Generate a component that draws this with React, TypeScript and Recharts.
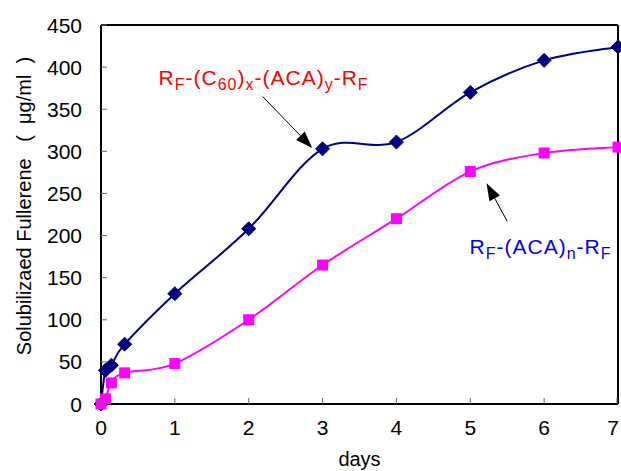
import React from 'react';
import { LineChart, Line, XAxis, YAxis, ReferenceLine, ReferenceDot } from 'recharts';

const blueDays = [0, 0.06, 0.14, 0.32, 1, 2, 3, 4, 5, 6, 7];
const blueValues = [0, 40, 46, 71, 131, 208, 303, 311, 370, 408, 424];
const pinkDays = [0, 0.06, 0.14, 0.32, 1, 2, 3, 4, 5, 6, 7];
const pinkValues = [0, 6, 25, 37, 48, 100, 165, 220, 276, 298, 305];
const xTicks = [0, 1, 2, 3, 4, 5, 6, 7];
const yTicks = [0, 50, 100, 150, 200, 250, 300, 350, 400, 450];

const blueData = blueDays.map((d, i) => ({ x: d, y: blueValues[i] }));
const pinkData = pinkDays.map((d, i) => ({ x: d, y: pinkValues[i] }));

const FONT = "'Liberation Sans', Arial, Helvetica, sans-serif";
const NAVY = '#000080';
const PINK = '#ff00ff';

// Catmull-Rom style smoothing (similar to Excel smoothed lines)
const smoothCurve: any = (context: any) => {
  let pts: number[][] = [];
  return {
    areaStart() {},
    areaEnd() {},
    lineStart() { pts = []; },
    point(x: number, y: number) { pts.push([+x, +y]); },
    lineEnd() {
      if (!pts.length) return;
      context.moveTo(pts[0][0], pts[0][1]);
      for (let i = 0; i < pts.length - 1; i++) {
        const p0 = pts[i - 1] || pts[i];
        const p1 = pts[i];
        const p2 = pts[i + 1];
        const p3 = pts[i + 2] || p2;
        context.bezierCurveTo(
          p1[0] + (p2[0] - p0[0]) / 6,
          p1[1] + (p2[1] - p0[1]) / 6,
          p2[0] - (p3[0] - p1[0]) / 6,
          p2[1] - (p3[1] - p1[1]) / 6,
          p2[0],
          p2[1]
        );
      }
    },
  };
};

const Diamond = (props: any) => {
  const { cx, cy, index } = props;
  if (cx == null || cy == null) return <g key={index} />;
  const r = 7;
  return (
    <polygon
      key={index}
      points={`${cx},${cy - r} ${cx + r},${cy} ${cx},${cy + r} ${cx - r},${cy}`}
      fill={NAVY}
      stroke="#000060"
      strokeWidth={1}
    />
  );
};

const Square = (props: any) => {
  const { cx, cy, index } = props;
  if (cx == null || cy == null) return <g key={index} />;
  const s = 5.5;
  return <rect key={index} x={cx - s} y={cy - s} width={2 * s} height={2 * s} fill={PINK} />;
};

const YTick = (props: any) => {
  const { x, y, payload } = props;
  return (
    <g>
      <line x1={x} x2={x + 6} y1={y} y2={y} stroke="#666" strokeWidth={1} />
      <text x={x - 19} y={y} dy="0.36em" textAnchor="end" fontSize={21} fontFamily={FONT} fill="#000">
        {payload.value}
      </text>
    </g>
  );
};

const XTick = (props: any) => {
  const { x, y, payload } = props;
  const tx = Math.min(x, 613);
  return (
    <g>
      <line x1={x} x2={x} y1={y} y2={y - 6} stroke="#666" strokeWidth={1} />
      <text x={tx} y={y + 31} textAnchor="middle" fontSize={21} fontFamily={FONT} fill="#000">
        {payload.value}
      </text>
    </g>
  );
};

const YLabel = () => (
  <text
    x={31}
    y={206}
    transform="rotate(-90, 31, 206)"
    textAnchor="middle"
    fontSize={20}
    fontFamily={FONT}
    fill="#000"
    style={{ whiteSpace: 'pre' }}
  >
    {'Solubilizaed Fullerene   (  μg/ml  )'}
  </text>
);

const Arrow = (props: any) => {
  const { x1, y1, x2, y2 } = props;
  if ([x1, y1, x2, y2].some((v) => v == null || isNaN(v))) return <g />;
  const dx = x2 - x1;
  const dy = y2 - y1;
  const len = Math.sqrt(dx * dx + dy * dy);
  const ux = dx / len;
  const uy = dy / len;
  const hl = 17;
  const hw = 6;
  const bx = x2 - ux * hl;
  const by = y2 - uy * hl;
  return (
    <g>
      <line x1={x1} y1={y1} x2={bx} y2={by} stroke="#000" strokeWidth={1} />
      <polygon
        points={`${x2},${y2} ${bx - uy * hw},${by + ux * hw} ${bx + uy * hw},${by - ux * hw}`}
        fill="#000"
      />
    </g>
  );
};

const Formula = (parts: [string, boolean][], color: string) => (props: any) => {
  const { cx, cy } = props;
  if (cx == null || cy == null) return <g />;
  let sub = false;
  return (
    <text x={cx} y={cy} fontSize={21} fontFamily={FONT} fill={color} letterSpacing={1}>
      {parts.map(([t, s], i) => {
        const dy = s && !sub ? 5 : !s && sub ? -5 : 0;
        sub = s;
        return (
          <tspan key={i} dy={dy} fontSize={s ? 16 : 21}>
            {t}
          </tspan>
        );
      })}
    </text>
  );
};

const RedFormula = Formula(
  [
    ['R', false],
    ['F', true],
    ['-(C', false],
    ['60', true],
    [')', false],
    ['x', true],
    ['-(ACA)', false],
    ['y', true],
    ['-R', false],
    ['F', true],
  ],
  '#ff0000'
);

const BlueFormula = Formula(
  [
    ['R', false],
    ['F', true],
    ['-(ACA)', false],
    ['n', true],
    ['-R', false],
    ['F', true],
  ],
  '#0000ff'
);

export default function App() {
  return (
    <div style={{ position: 'absolute', left: 0, top: 0, width: 621, height: 471, background: '#fff' }}>
      <LineChart width={621} height={471} margin={{ top: 25, right: 3, bottom: 0, left: 0 }}>
        <XAxis
          type="number"
          dataKey="x"
          domain={[0, 7]}
          ticks={xTicks}
          height={67}
          tickSize={0}
          tickMargin={0}
          tick={<XTick />}
          axisLine={{ stroke: '#000', strokeWidth: 2 }}
          tickLine={false}
          label={{ value: 'days', position: 'insideBottom', offset: 5, fill: '#000', fontSize: 20, fontFamily: FONT }}
        />
        <YAxis
          type="number"
          domain={[0, 450]}
          ticks={yTicks}
          width={101}
          tickSize={0}
          tickMargin={0}
          tick={<YTick />}
          axisLine={{ stroke: '#000', strokeWidth: 2 }}
          tickLine={false}
          label={<YLabel />}
        />
        <ReferenceLine y={450} stroke="#000" strokeWidth={2} />
        <ReferenceLine x={7} stroke="#000" strokeWidth={2} />
        <Line
          data={blueData}
          dataKey="y"
          type={smoothCurve}
          stroke={NAVY}
          strokeWidth={2}
          dot={<Diamond />}
          isAnimationActive={false}
        />
        <Line
          data={pinkData}
          dataKey="y"
          type={smoothCurve}
          stroke={PINK}
          strokeWidth={2}
          dot={<Square />}
          isAnimationActive={false}
        />
        <ReferenceLine segment={[{ x: 2.19, y: 365 }, { x: 2.86, y: 304 }]} shape={<Arrow />} />
        <ReferenceLine segment={[{ x: 5.5, y: 217 }, { x: 5.22, y: 262 }]} shape={<Arrow />} />
        <ReferenceDot x={0.78} y={379} r={1} shape={RedFormula} />
        <ReferenceDot x={4.99} y={178} r={1} shape={BlueFormula} />
      </LineChart>
    </div>
  );
}
